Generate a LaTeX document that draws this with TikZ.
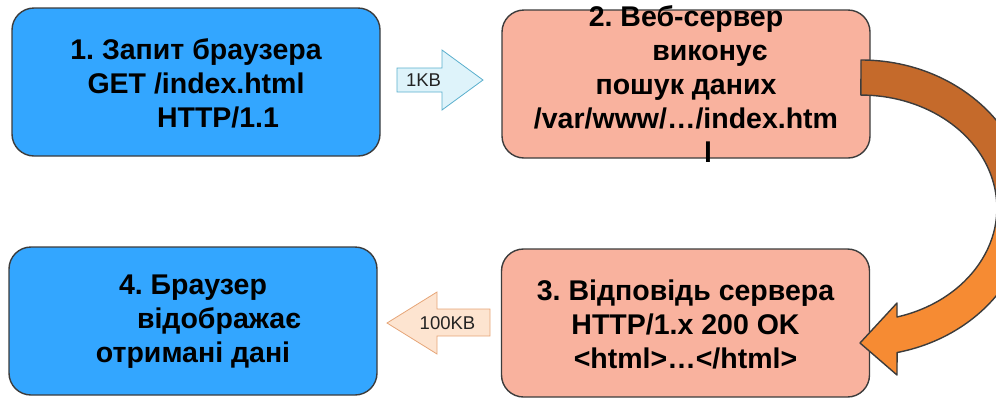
\documentclass[tikz,border=0pt]{standalone}
\usepackage{fontspec}
\setmainfont{Liberation Sans}
\frenchspacing
\definecolor{boxblue}{RGB}{51,166,255}
\definecolor{boxsalmon}{RGB}{249,178,158}
\definecolor{edgegray}{RGB}{60,60,60}
\definecolor{kbbluefill}{RGB}{222,243,250}
\definecolor{kbblueedge}{RGB}{90,175,205}
\definecolor{kborangefill}{RGB}{253,228,208}
\definecolor{kborangeedge}{RGB}{230,165,120}
\definecolor{bendbrown}{RGB}{197,106,43}
\definecolor{bendorange}{RGB}{246,139,51}
\definecolor{kbgray}{RGB}{35,35,35}
\begin{document}
\begin{tikzpicture}[x=1pt,y=1pt,
		box/.style={draw=edgegray, line width=1.4pt, rounded corners=22pt,
			minimum width=368pt, minimum height=148pt, inner sep=0pt},
		boxtext/.style={font=\fontsize{28.5}{34}\selectfont\bfseries,
			align=center, inner sep=0pt},
		kbtext/.style={font=\fontsize{18.5}{20}\selectfont, text=kbgray, inner sep=0pt},
		bendarrow/.style={draw=edgegray, line width=1.4pt, line join=round}]
	\useasboundingbox (0,-397) rectangle (996,0);
	% boxes
	\foreach \nm/\cx/\cy/\col in {req/196/82/boxblue, srv/686/84/boxsalmon,
			resp/685.5/323/boxsalmon, show/193/321/boxblue} {
		\node[box, fill=\col] (\nm) at (\cx,-\cy) {};
	}
	\node[boxtext] (reqtxt) at ([yshift=-1.5pt]req.center)
		{1. Запит браузера\\GET /index.html\\\hspace*{44pt}HTTP/1.1};
	\node[boxtext] (srvtxt) at (srv.center)
		{2. Веб-сервер\\\hspace*{48pt}виконує\\пошук даних\\/var/www/…/index.htm\\\hspace*{44pt}l};
	\node[boxtext] (resptxt) at ([yshift=-1.5pt]resp.center)
		{3. Відповідь сервера\\HTTP/1.x 200 OK\\<html>…</html>};
	\node[boxtext] (showtxt) at ([yshift=-1pt]show.center)
		{4. Браузер\\\hspace*{52pt}відображає\\отримані дані};
	% size arrows
	\draw[kbblueedge, fill=kbbluefill, line width=0.8pt]
		(397,-68) -- (442,-68) -- (442,-50) -- (483,-80) -- (442,-110)
		-- (442,-92) -- (397,-92) -- cycle;
	\node[kbtext] (kb1) at (423.5,-80) {1KB};
	\draw[kborangeedge, fill=kborangefill, line width=0.8pt]
		(490,-309) -- (437,-309) -- (437,-292) -- (387,-323) -- (437,-354)
		-- (437,-336) -- (490,-336) -- cycle;
	\node[kbtext] (kb100) at (447.5,-323) {100KB};
	% bent arrow from server to response
	\def\bendpath{(861,-60) arc[start angle=90, end angle=-77.6, x radius=168, y radius=148]
		-- (897,-375) -- (860,-343) -- (897,-303) -- (897,-317)
		arc[start angle=-74.6, end angle=90, x radius=136, y radius=113] -- cycle}
	\fill[bendorange] \bendpath;
	\begin{scope}
		\clip (840,-208) rectangle (1040,0);
		\fill[bendbrown] \bendpath;
	\end{scope}
	\draw[bendarrow] \bendpath;
\end{tikzpicture}
\end{document}
